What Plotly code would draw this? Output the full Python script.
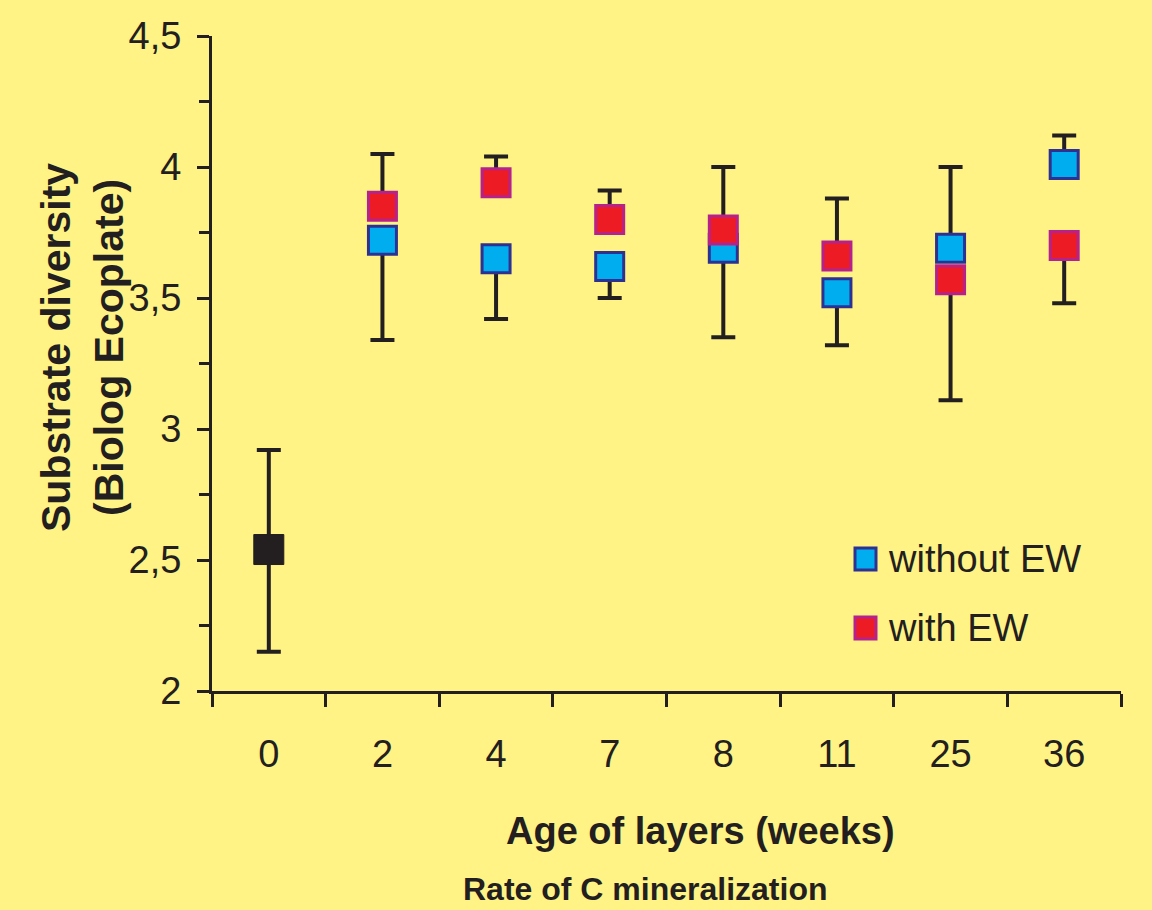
import plotly.graph_objects as go

# ---------------- data ----------------
weeks = ["0", "2", "4", "7", "8", "11", "25", "36"]

control_week = ["0"]
control_mean = [2.54]
control_top = [2.92]
control_bottom = [2.15]

without_ew = [None, 3.72, 3.65, 3.62, 3.69, 3.52, 3.69, 4.01]
with_ew = [None, 3.85, 3.94, 3.80, 3.76, 3.66, 3.57, 3.70]

err_top = [None, 4.05, 4.04, 3.91, 4.00, 3.88, 4.00, 4.12]
err_bottom = [None, 3.34, 3.42, 3.50, 3.35, 3.32, 3.11, 3.48]

y_ticks = [2, 2.5, 3, 3.5, 4, 4.5]

# ---------------- styling ----------------
BG = "#FFF385"
INK = "#231F20"
FONT = "Liberation Sans, Arial, sans-serif"
BLUE_FILL, BLUE_LINE = "#00AEEF", "#2E3192"
RED_FILL, RED_LINE = "#ED1C24", "#B5228C"

# plot-area geometry (pixels)
L, R, T, B = 212, 1121, 36, 691
W_PX, H_PX = R - L, B - T


def px(x):
    return (x - L) / W_PX


def py(y):
    return (B - y) / H_PX


def split_errors(mine, other):
    plus, minus = [], []
    for m, o, t, b in zip(mine, other, err_top, err_bottom):
        if m is None:
            plus.append(0)
            minus.append(0)
        elif m >= o:
            plus.append(round(t - m, 3))
            minus.append(0)
        else:
            plus.append(0)
            minus.append(round(m - b, 3))
    return plus, minus


blue_plus, blue_minus = split_errors(without_ew, with_ew)
red_plus, red_minus = split_errors(with_ew, without_ew)

err_style = dict(type="data", symmetric=False, color=INK, thickness=4, width=12)
invisible = dict(size=1, color="rgba(0,0,0,0)")

fig = go.Figure()

# error bars first (beneath all markers)
fig.add_trace(go.Scatter(
    x=weeks, y=without_ew, mode="markers", marker=invisible, hoverinfo="skip",
    error_y=dict(array=blue_plus, arrayminus=blue_minus, **err_style), showlegend=False))
fig.add_trace(go.Scatter(
    x=weeks, y=with_ew, mode="markers", marker=invisible, hoverinfo="skip",
    error_y=dict(array=red_plus, arrayminus=red_minus, **err_style), showlegend=False))
fig.add_trace(go.Scatter(
    x=control_week, y=control_mean, mode="markers", marker=invisible, hoverinfo="skip",
    error_y=dict(array=[control_top[0] - control_mean[0]],
                 arrayminus=[control_mean[0] - control_bottom[0]], **err_style),
    showlegend=False))

# markers
fig.add_trace(go.Scatter(
    x=control_week, y=control_mean, mode="markers", name="control",
    marker=dict(symbol="square", size=30, color=INK, line=dict(color=INK, width=1)),
    showlegend=False))
fig.add_trace(go.Scatter(
    x=weeks, y=without_ew, mode="markers", name="without EW",
    marker=dict(symbol="square", size=28, color=BLUE_FILL, line=dict(color=BLUE_LINE, width=3)),
    showlegend=False))
fig.add_trace(go.Scatter(
    x=weeks, y=with_ew, mode="markers", name="with EW",
    marker=dict(symbol="square", size=28, color=RED_FILL, line=dict(color=RED_LINE, width=3)),
    showlegend=False))

# manual legend
shapes = []
annotations = []
for (label, fill, line, cy) in [("without EW", BLUE_FILL, BLUE_LINE, 559),
                                 ("with EW", RED_FILL, RED_LINE, 628)]:
    shapes.append(dict(type="rect", xref="paper", yref="paper",
                       x0=px(855), x1=px(876), y0=py(cy + 11), y1=py(cy - 11),
                       fillcolor=fill, line=dict(color=line, width=3)))
    annotations.append(dict(xref="paper", yref="paper", x=px(886), y=py(cy),
                            xanchor="left", yanchor="middle", showarrow=False,
                            text=label, font=dict(family=FONT, size=38, color=INK)))

# titles
annotations.append(dict(xref="paper", yref="paper", x=px(82), y=py(348),
                        xanchor="center", yanchor="middle", showarrow=False, textangle=-90,
                        text="<b>Substrate diversity<br>(Biolog Ecoplate)</b>",
                        font=dict(family=FONT, size=41, color=INK)))
annotations.append(dict(xref="paper", yref="paper", x=px(700), y=py(831),
                        xanchor="center", yanchor="middle", showarrow=False,
                        text="<b>Age of layers (weeks)</b>",
                        font=dict(family=FONT, size=38, color=INK)))
annotations.append(dict(xref="paper", yref="paper", x=px(645), y=py(889),
                        xanchor="center", yanchor="middle", showarrow=False,
                        text="<b>Rate of C mineralization</b>",
                        font=dict(family=FONT, size=32, color=INK)))

fig.update_layout(
    width=1152, height=910,
    margin=dict(l=L, r=1152 - R, t=T, b=910 - B, pad=0),
    paper_bgcolor=BG, plot_bgcolor=BG,
    separators=", ",
    showlegend=False,
    shapes=shapes,
    annotations=annotations,
    font=dict(family=FONT, color=INK),
)

fig.update_xaxes(
    type="category", categoryorder="array", categoryarray=weeks,
    range=[-0.5, len(weeks) - 0.5],
    showline=True, linecolor=INK, linewidth=3,
    ticks="outside", tickson="boundaries", ticklen=13, tickwidth=3, tickcolor=INK,
    showgrid=False, zeroline=False,
    tickfont=dict(family=FONT, size=38, color=INK),
    ticklabelstandoff=27,
)
fig.update_yaxes(
    range=[2, 4.5], tickvals=y_ticks,
    showline=True, linecolor=INK, linewidth=3,
    ticks="outside", ticklen=12, tickwidth=3, tickcolor=INK,
    minor=dict(dtick=0.25, ticks="outside", ticklen=10, tickwidth=3, tickcolor=INK, showgrid=False),
    showgrid=False, zeroline=False,
    tickfont=dict(family=FONT, size=38, color=INK),
    ticklabelstandoff=8,
)

fig.write_html(
    "out.html",
    config={"displayModeBar": False, "staticPlot": True},
    post_script="document.body.style.margin='0';document.body.style.padding='0';"
                "document.documentElement.style.overflow='hidden';"
                "document.body.style.background='" + BG + "';",
)
